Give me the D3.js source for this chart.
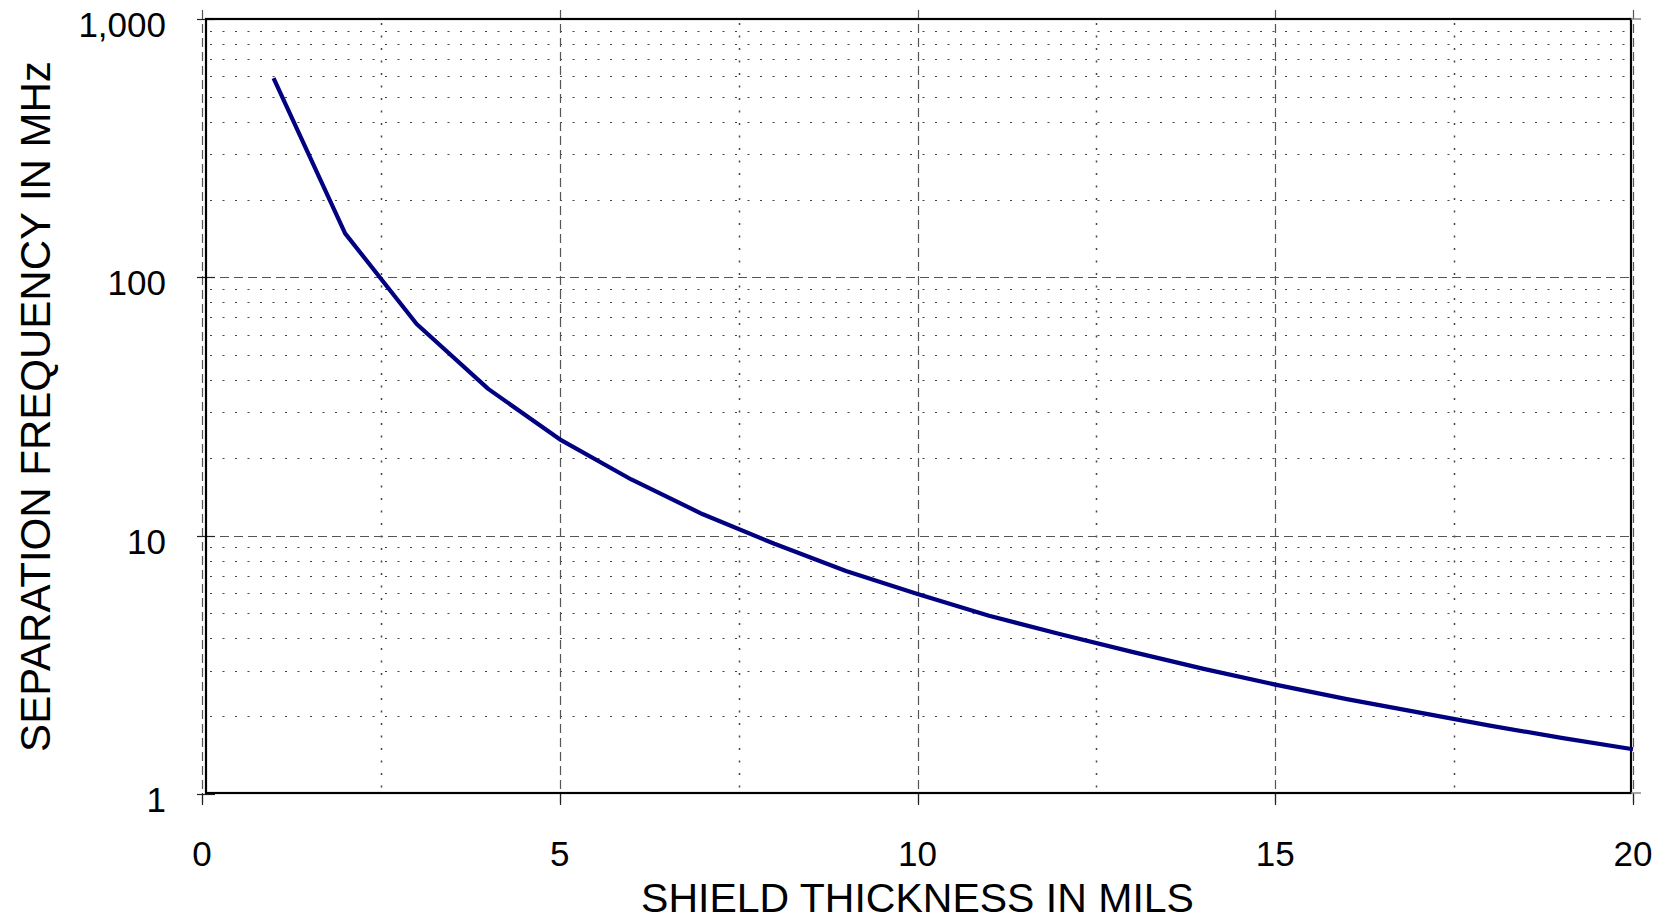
<!DOCTYPE html>
<html>
<head>
<meta charset="utf-8">
<script src="https://cdn.jsdelivr.net/npm/d3@7"></script>
<style>
  body { margin: 0; background: #fff; }
  svg { display: block; font-family: "Liberation Sans", Arial, sans-serif; }
</style>
</head>
<body>
<div id="chart"></div>
<script>
// data
const thickness = [1, 2, 3, 4, 5, 6, 7, 8, 9, 10, 11, 12, 13, 14, 15, 16, 17, 18, 19, 20];
const freqMHz = [590, 148, 66, 37, 23.6, 16.5, 12.1, 9.3, 7.3, 5.95, 4.9, 4.15, 3.55, 3.05, 2.65, 2.33, 2.07, 1.84, 1.65, 1.49];

const xMajor = [0, 5, 10, 15, 20];
const xMinor = [2.5, 7.5, 12.5, 17.5];
const yMajor = [1, 10, 100, 1000];
const yMinor = [2, 3, 4, 5, 6, 7, 8, 9, 20, 30, 40, 50, 60, 70, 80, 90, 200, 300, 400, 500, 600, 700, 800, 900];

const xTitle = "SHIELD THICKNESS IN MILS";
const yTitle = "SEPARATION FREQUENCY IN MHz";

const width = 1669, height = 922;

const svg = d3.select("#chart")
  .append("svg")
  .attr("width", width)
  .attr("height", height);

// scales
const x = d3.scaleLinear().domain([0, 20]).range([202, 1633]);
const y = d3.scaleLog().domain([1, 1000]).range([794, 19]);

const frame = { left: 206, right: 1631, top: 19, bottom: 793 };

// minor grid (dotted)
svg.append("g")
  .selectAll("line")
  .data(yMinor)
  .enter()
  .append("line")
  .attr("x1", frame.left + 4)
  .attr("x2", frame.right - 4)
  .attr("y1", d => Math.round(y(d)) + 0.5)
  .attr("y2", d => Math.round(y(d)) + 0.5)
  .attr("stroke", "#444")
  .attr("stroke-width", 1.2)
  .attr("stroke-dasharray", "2,10.5");

svg.append("g")
  .selectAll("line")
  .data(xMinor)
  .enter()
  .append("line")
  .attr("x1", d => Math.round(x(d)) + 0.5)
  .attr("x2", d => Math.round(x(d)) + 0.5)
  .attr("y1", frame.top + 4)
  .attr("y2", frame.bottom)
  .attr("stroke", "#444")
  .attr("stroke-width", 1.5)
  .attr("stroke-dasharray", "2,10.5");

// major grid (dashed)
svg.append("g")
  .selectAll("line")
  .data(yMajor.slice(1, -1))
  .enter()
  .append("line")
  .attr("x1", frame.left)
  .attr("x2", frame.right)
  .attr("y1", d => Math.round(y(d)) + 0.5)
  .attr("y2", d => Math.round(y(d)) + 0.5)
  .attr("stroke", "#555")
  .attr("stroke-width", 1.2)
  .attr("stroke-dasharray", "9,5");

svg.append("g")
  .selectAll("line")
  .data(xMajor)
  .enter()
  .append("line")
  .attr("x1", d => Math.round(x(d)) + 0.5)
  .attr("x2", d => Math.round(x(d)) + 0.5)
  .attr("y1", 10)
  .attr("y2", 804)
  .attr("stroke", "#555")
  .attr("stroke-width", 1.2)
  .attr("stroke-dasharray", "9,5");

// tick marks on the axes
svg.append("g")
  .selectAll("line")
  .data(xMajor)
  .enter()
  .append("line")
  .attr("x1", d => Math.round(x(d)) + 0.5)
  .attr("x2", d => Math.round(x(d)) + 0.5)
  .attr("y1", frame.bottom)
  .attr("y2", 805)
  .attr("stroke", "#222")
  .attr("stroke-width", 1.2);

svg.append("g")
  .selectAll("line")
  .data(yMajor)
  .enter()
  .append("line")
  .attr("x1", 197)
  .attr("x2", 215)
  .attr("y1", d => Math.round(y(d)) + 0.5)
  .attr("y2", d => Math.round(y(d)) + 0.5)
  .attr("stroke", "#222")
  .attr("stroke-width", 1.2);

// frame
svg.append("rect")
  .attr("x", frame.left)
  .attr("y", frame.top)
  .attr("width", frame.right - frame.left)
  .attr("height", frame.bottom - frame.top)
  .attr("fill", "none")
  .attr("stroke", "#000")
  .attr("stroke-width", 2.2);

svg.append("line")
  .attr("x1", frame.right).attr("x2", 1641)
  .attr("y1", frame.top).attr("y2", frame.top)
  .attr("stroke", "#888").attr("stroke-width", 1.5);
svg.append("line")
  .attr("x1", frame.right).attr("x2", 1641)
  .attr("y1", frame.bottom).attr("y2", frame.bottom)
  .attr("stroke", "#888").attr("stroke-width", 1.5);

// curve
const line = d3.line()
  .x((d, i) => x(thickness[i]))
  .y(d => y(d));

svg.append("path")
  .datum(freqMHz)
  .attr("d", line)
  .attr("fill", "none")
  .attr("stroke", "#000080")
  .attr("stroke-width", 4.2)
  .attr("stroke-linejoin", "round");

// tick labels
svg.append("g")
  .selectAll("text")
  .data(xMajor)
  .enter()
  .append("text")
  .attr("x", d => x(d))
  .attr("y", 866)
  .attr("text-anchor", "middle")
  .attr("font-size", 35)
  .attr("fill", "#000")
  .text(d => d);

svg.append("g")
  .selectAll("text")
  .data(yMajor)
  .enter()
  .append("text")
  .attr("x", 166)
  .attr("y", d => y(d) + 18)
  .attr("text-anchor", "end")
  .attr("font-size", 35)
  .attr("fill", "#000")
  .text(d => d3.format(",")(d));

// axis titles
svg.append("text")
  .attr("x", (x(0) + x(20)) / 2)
  .attr("y", 912)
  .attr("text-anchor", "middle")
  .attr("font-size", 41)
  .attr("fill", "#000")
  .text(xTitle);

svg.append("text")
  .attr("transform", "translate(50," + ((y(1) + y(1000)) / 2) + ") rotate(-90)")
  .attr("text-anchor", "middle")
  .attr("font-size", 42)
  .attr("fill", "#000")
  .text(yTitle);
</script>
</body>
</html>
